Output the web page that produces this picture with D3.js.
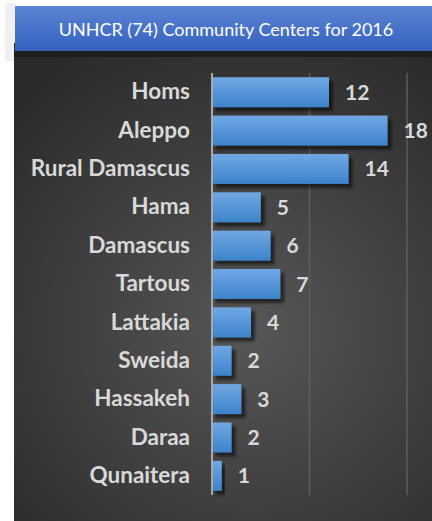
<!DOCTYPE html>
<html>
<head>
<meta charset="utf-8">
<script src="https://cdn.jsdelivr.net/npm/d3@7"></script>
<style>
  html, body { margin: 0; padding: 0; background: #ffffff; }
  svg { display: block; }
</style>
</head>
<body>
<script>
// data
const regions = ["Homs", "Aleppo", "Rural Damascus", "Hama", "Damascus", "Tartous",
                 "Lattakia", "Sweida", "Hassakeh", "Daraa", "Qunaitera"];
const centers = [12, 18, 14, 5, 6, 7, 4, 2, 3, 2, 1];
const gridTicks = [0, 10, 20];
const chartTitle = "UNHCR (74) Community Centers for 2016";

const width = 432, height = 521;
const plot = {left: 212, right: 407, top: 73, bottom: 495};

const svg = d3.select("body").append("svg")
  .attr("width", width)
  .attr("height", height);

const defs = svg.append("defs");

const bg = defs.append("radialGradient").attr("id", "bg")
  .attr("gradientUnits", "userSpaceOnUse")
  .attr("cx", 250).attr("cy", 330).attr("r", 330);
bg.append("stop").attr("offset", "0%").attr("stop-color", "#575757");
bg.append("stop").attr("offset", "100%").attr("stop-color", "#2a2a2a");

const banner = defs.append("linearGradient").attr("id", "banner")
  .attr("x1", 0).attr("y1", 0).attr("x2", 0).attr("y2", 1);
banner.append("stop").attr("offset", "0%").attr("stop-color", "#5d84d2");
banner.append("stop").attr("offset", "100%").attr("stop-color", "#3361c0");

const barGrad = defs.append("linearGradient").attr("id", "barGrad")
  .attr("x1", 0).attr("y1", 0).attr("x2", 0).attr("y2", 1);
barGrad.append("stop").attr("offset", "0%").attr("stop-color", "#70a8e3");
barGrad.append("stop").attr("offset", "100%").attr("stop-color", "#3c83cb");

const shadow = defs.append("filter").attr("id", "shadow")
  .attr("x", "-20%").attr("y", "-20%").attr("width", "150%").attr("height", "160%");
shadow.append("feDropShadow")
  .attr("dx", 4).attr("dy", 4).attr("stdDeviation", 1.5)
  .attr("flood-color", "#000").attr("flood-opacity", 0.55);

// panel + title banner
svg.append("rect").attr("x", 5).attr("y", 3).attr("width", 12).attr("height", 58).attr("fill", "#f0f0f0");
svg.append("rect").attr("x", 14).attr("y", 43).attr("width", width - 14).attr("height", height - 43).attr("fill", "url(#bg)");
svg.append("rect").attr("x", 14).attr("y", 51).attr("width", width - 14).attr("height", 6).attr("fill", "#1e1e1e");
svg.append("rect").attr("x", 15).attr("y", 6).attr("width", width - 15).attr("height", 45).attr("fill", "url(#banner)");

svg.append("text")
  .attr("x", 226).attr("y", 36)
  .attr("text-anchor", "middle")
  .attr("fill", "#ffffff")
  .style("font-family", "Lato, 'Open Sans', sans-serif")
  .style("font-size", "18px")
  .text(chartTitle);

// scales
const x = d3.scaleLinear().domain([0, 20]).range([plot.left, plot.right]);
const y = d3.scaleBand().domain(regions).range([plot.top, plot.bottom])
  .paddingInner(0.22).paddingOuter(0.11);

// gridlines
svg.append("g").selectAll("line")
  .data(gridTicks.slice(1))
  .join("line")
  .attr("x1", d => x(d)).attr("x2", d => x(d))
  .attr("y1", plot.top).attr("y2", plot.bottom)
  .attr("stroke", "#5c5c5c").attr("stroke-width", 1.5);

// bars
svg.append("g").selectAll("rect")
  .data(centers)
  .join("rect")
  .attr("x", x(0))
  .attr("y", (d, i) => y(regions[i]))
  .attr("width", d => x(d) - x(0))
  .attr("height", y.bandwidth())
  .attr("fill", "url(#barGrad)")
  .attr("filter", "url(#shadow)");

// category axis
const yAxis = svg.append("g")
  .attr("transform", `translate(${plot.left},0)`)
  .call(d3.axisLeft(y).tickSize(0).tickPadding(22));
yAxis.select(".domain").attr("stroke", "#a8a8a8").attr("stroke-width", 2)
  .attr("d", `M0,${plot.top}V${plot.bottom}`);
yAxis.selectAll("text")
  .attr("fill", "#d9d9d9")
  .style("font-family", "Lato, 'Open Sans', sans-serif")
  .style("font-weight", "bold")
  .style("font-size", "22.5px");

// value labels
svg.append("g").selectAll("text")
  .data(centers)
  .join("text")
  .attr("x", d => x(d) + 16)
  .attr("y", (d, i) => y(regions[i]) + y.bandwidth() / 2)
  .attr("dy", "0.36em")
  .attr("fill", "#d9d9d9")
  .style("font-family", "Lato, 'Open Sans', sans-serif")
  .style("font-weight", "bold")
  .style("font-size", "21px")
  .text(d => d);
</script>
</body>
</html>
